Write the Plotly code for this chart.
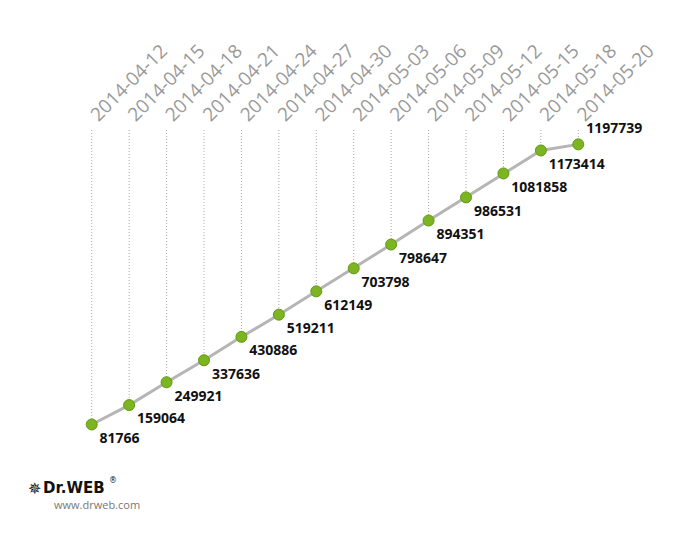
import plotly.graph_objects as go

dates = ["2014-04-12", "2014-04-15", "2014-04-18", "2014-04-21", "2014-04-24",
         "2014-04-27", "2014-04-30", "2014-05-03", "2014-05-06", "2014-05-09",
         "2014-05-12", "2014-05-15", "2014-05-18", "2014-05-20"]
values = [81766, 159064, 249921, 337636, 430886, 519211, 612149, 703798,
          798647, 894351, 986531, 1081858, 1173414, 1197739]

Y_TOP = 1255000

fig = go.Figure()

# dotted drop lines from top of plot to each point
gx, gy = [], []
for d, v in zip(dates, values):
    gx += [d, d, None]
    gy += [Y_TOP, v, None]
fig.add_trace(go.Scatter(x=gx, y=gy, mode="lines",
                         line=dict(color="#a8a8a8", width=1, dash="1px,2px"),
                         hoverinfo="skip", showlegend=False))

positions = ["bottom right"] * (len(values) - 1) + ["top right"]
fig.add_trace(go.Scatter(
    x=dates, y=values, mode="lines+markers+text",
    line=dict(color="#b5b5b5", width=3),
    marker=dict(color="#7cb521", size=11, line=dict(color="#5e9a10", width=1)),
    text=[str(v) for v in values], textposition=positions,
    textfont=dict(family="Open Sans", size=14, color="#111111", weight="bold"),
    cliponaxis=False, showlegend=False))

fig.update_xaxes(type="category", side="top", tickangle=-45,
                 range=[-0.5, 13.5], showgrid=False, zeroline=False,
                 showline=False, ticks="", automargin=False,
                 tickfont=dict(family="Open Sans", size=19, color="#999999"))
fig.update_yaxes(range=[0, Y_TOP], showgrid=False, zeroline=False,
                 showline=False, showticklabels=False, ticks="", automargin=False)

fig.add_annotation(xref="paper", yref="paper", x=-0.09, y=-0.137, xanchor="left",
                   yanchor="middle",
                   text="✵", showarrow=False,
                   font=dict(family="DejaVu Sans", size=16, color="#111"))
fig.add_annotation(xref="paper", yref="paper", x=-0.062, y=-0.137, xanchor="left",
                   yanchor="middle",
                   text="<b>Dr.WEB</b>", showarrow=False,
                   font=dict(family="DejaVu Sans", size=15, color="#111"))
fig.add_annotation(xref="paper", yref="paper", x=0.064, y=-0.112, xanchor="left",
                   yanchor="middle",
                   text="®", showarrow=False,
                   font=dict(family="DejaVu Sans", size=8, color="#111"))
fig.add_annotation(xref="paper", yref="paper", x=-0.04, y=-0.19, xanchor="left",
                   yanchor="middle",
                   text="www.drweb.com", showarrow=False,
                   font=dict(family="Open Sans", size=11, color="#777"))

fig.update_layout(width=673, height=560,
                  margin=dict(l=65, r=84, t=122, b=123),
                  paper_bgcolor="white", plot_bgcolor="white")

fig.write_html("out.html")
